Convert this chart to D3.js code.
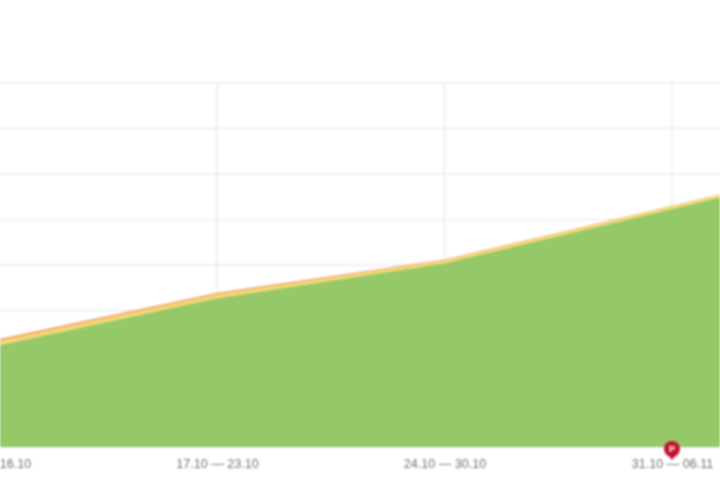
<!DOCTYPE html>
<html><head><meta charset="utf-8">
<script src="https://cdn.jsdelivr.net/npm/d3@7/dist/d3.min.js"></script>
<style>html,body{margin:0;padding:0;background:#fff;overflow:hidden}svg{display:block;filter:blur(.8px)}</style>
</head><body><svg id="c" width="720" height="480"></svg>
<script>
const weeks = ["10.10 — 16.10","17.10 — 23.10","24.10 — 30.10","31.10 — 06.11","07.11 — 13.11"];
const labelled = ["10.10 — 16.10","17.10 — 23.10","24.10 — 30.10","31.10 — 06.11"];
const green = [21.9, 32.7, 40.4, 52.3, 64.5];
const yellow = [0.9, 0.8, 0.6, 0.6, 0.6];
const orange = [0.5, 0.4, 0.2, 0.1, 0.1];
const yTicks = [0,10,20,30,40,50,60,70,80];
const markerWeek = "31.10 — 06.11";

const svg = d3.select("#c");
const x = d3.scalePoint().domain(weeks).range([-10.5, 899.5]);
const y = d3.scaleLinear().domain([0,80]).range([447,83]);

svg.append("g").selectAll("line").data(yTicks).join("line")
  .attr("x1",0).attr("x2",720).attr("y1",d=>y(d)).attr("y2",d=>y(d))
  .attr("stroke","#ececec").attr("stroke-width",1.4);
svg.append("g").selectAll("line").data(weeks).join("line")
  .attr("x1",d=>x(d)).attr("x2",d=>x(d)).attr("y1",y(80)).attr("y2",y(0))
  .attr("stroke","#ececec").attr("stroke-width",1.4);

const rows = weeks.map((w,i)=>({w,green:green[i],yellow:yellow[i],orange:orange[i]}));
const stack = d3.stack().keys(["green","yellow","orange"])(rows);
const colors = {green:"#95c866",yellow:"#f5d76e",orange:"#f0a868"};
const area = d3.area().x(d=>x(d.data.w)).y0(d=>y(d[0])).y1(d=>y(d[1]));
svg.append("g").selectAll("path").data(stack).join("path")
  .attr("d",area).attr("fill",d=>colors[d.key]);

svg.append("g").attr("transform","translate(0,447)")
  .call(d3.axisBottom(x).tickValues(labelled).tickSize(0).tickPadding(12))
  .call(g=>g.select(".domain").remove())
  .call(g=>g.selectAll("text").attr("font-family","Liberation Sans, Arial, sans-serif")
     .attr("font-size",12.6).attr("fill","#707070"));

const m = svg.append("g").attr("transform",`translate(${x(markerWeek)},449)`);
m.append("circle").attr("r",8).attr("fill","#c8102e");
m.append("path").attr("d","M-4,6 L0,11 L4,6Z").attr("fill","#c8102e");
m.append("text").attr("text-anchor","middle").attr("y",3).attr("font-size",9)
  .attr("font-weight","bold").attr("font-family","Liberation Sans, Arial, sans-serif")
  .attr("fill","#fff").text("P");
</script></body></html>
